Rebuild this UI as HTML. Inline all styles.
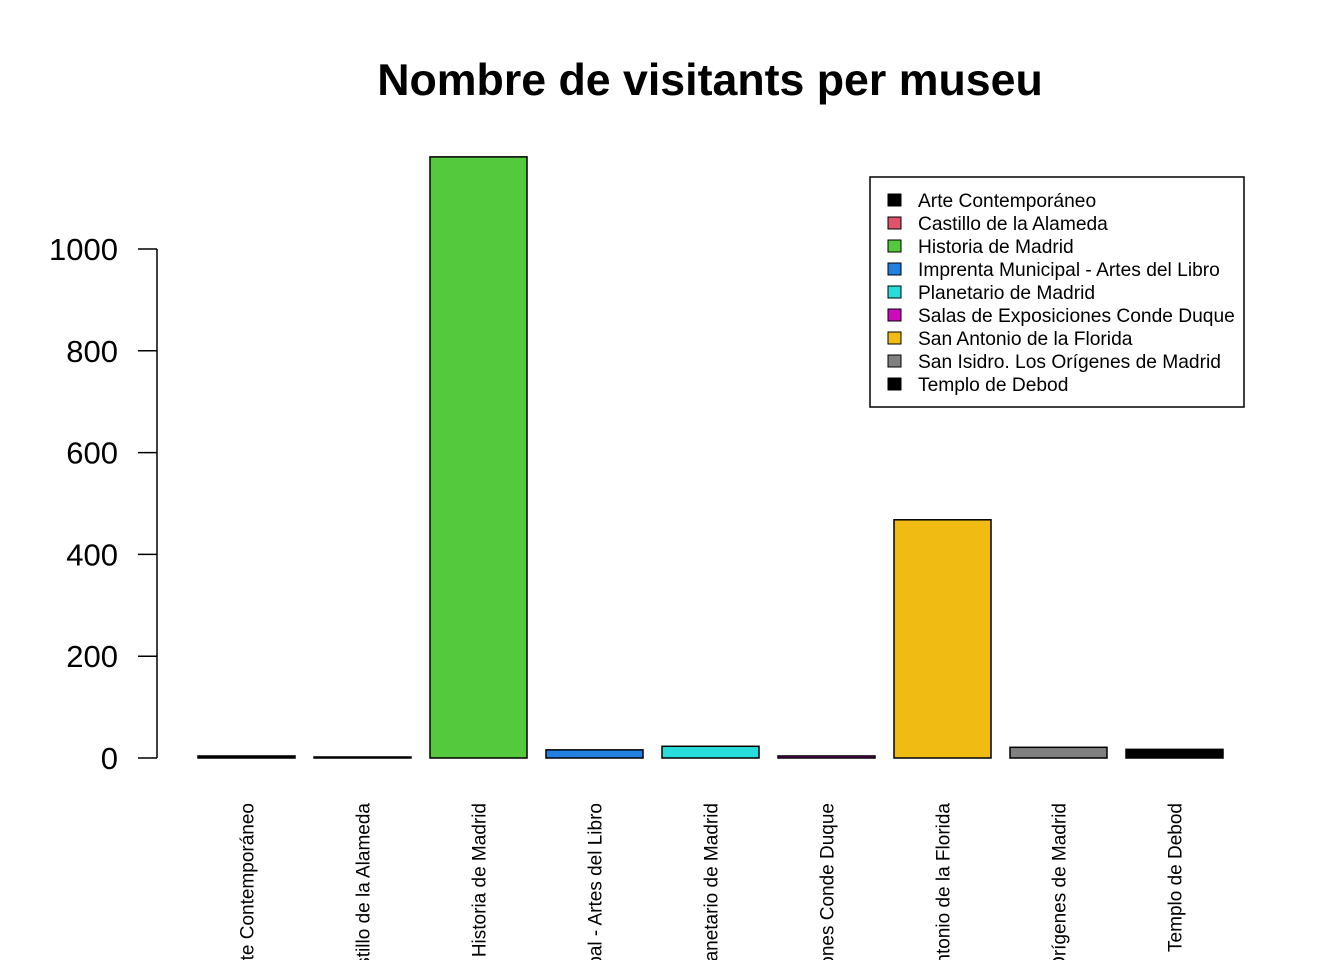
<!DOCTYPE html>
<html><head><meta charset="utf-8"><style>html,body{margin:0;background:#fff;overflow:hidden;width:1344px;height:960px}svg{display:block;overflow:hidden;font-family:"Liberation Sans",Arial,sans-serif}</style></head>
<body>
<svg id="chart" width="1344" height="960" viewBox="0 0 1344 960">
<text x="710" y="95" text-anchor="middle" font-size="44.7" font-weight="bold">Nombre de visitants per museu</text>
<g id="axis"></g>
<g id="bars"></g>
<g id="xlabels"></g>
<g id="legend"></g>
</svg>
<script>
const categories=["Arte Contemporáneo","Castillo de la Alameda","Historia de Madrid","Imprenta Municipal - Artes del Libro","Planetario de Madrid","Salas de Exposiciones Conde Duque","San Antonio de la Florida","San Isidro. Los Orígenes de Madrid","Templo de Debod"];
const values=[4,2,1181,16,23,4,468,21,17];
const colors=["#000000","#DF536B","#54C93E","#2280E0","#28DCDC","#CD0BBC","#F0BC14","#808080","#000000"];
const ticks=[0,200,400,600,800,1000];
const NS="http://www.w3.org/2000/svg";
function el(t,a,p){const e=document.createElementNS(NS,t);for(const k in a)e.setAttribute(k,a[k]);p.appendChild(e);return e;}
const y=v=>758-v*0.509;
const x=i=>198+i*116;
const bw=97;
const ax=document.getElementById('axis');
let ln=el('line',{x1:157,x2:157,y1:y(0),y2:y(1000),stroke:'#000','stroke-width':1.5},ax);


ticks.forEach(t=>{
 const tk=el('line',{x1:138,x2:157,y1:y(t),y2:y(t),stroke:'#000','stroke-width':1.5},ax);
 
 
 const tx=el('text',{x:118,y:y(t)+11,'text-anchor':'end','font-size':31},ax);
 
 
 tx.textContent=t;
});
const bg=document.getElementById('bars'),lg=document.getElementById('xlabels'),leg=document.getElementById('legend');
values.forEach((v,i)=>{
 const r=el('rect',{x:x(i),y:y(v),width:bw,height:y(0)-y(v),fill:colors[i],stroke:'#000','stroke-width':1.5},bg);
 
 
 const cx=x(i)+bw/2+7;
 const t=el('text',{x:cx,y:803,'text-anchor':'end','font-size':19,transform:`rotate(-90 ${cx} 803)`},lg);
 
 
 t.textContent=categories[i];
});
const box=el('rect',{x:870,y:177,width:374,height:230,fill:'#fff',stroke:'#000','stroke-width':1.5},leg);


categories.forEach((c,i)=>{
 const yy=200+i*23;
 const s=el('rect',{x:888,y:yy-6,width:13,height:12,fill:colors[i],stroke:'#000','stroke-width':1},leg);
 
 
 const t=el('text',{x:918,y:yy+7,'font-size':19.2},leg);
 
 
 t.textContent=c;
});
</script>
</body></html>
